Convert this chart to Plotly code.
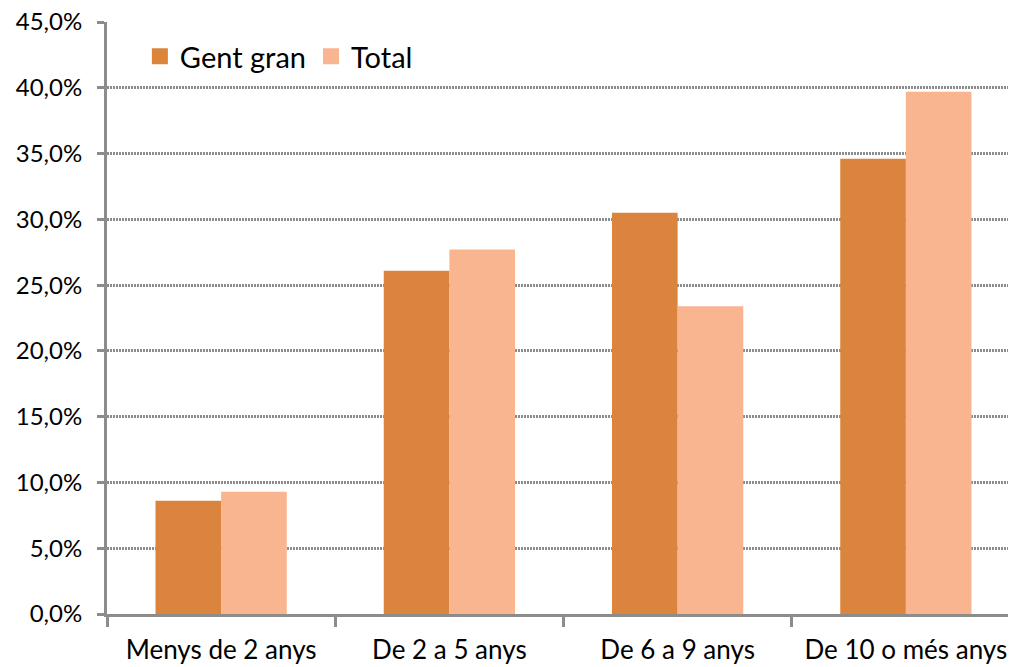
import plotly.graph_objects as go

categories = ["Menys de 2 anys", "De 2 a 5 anys", "De 6 a 9 anys", "De 10 o més anys"]
gent_gran = [8.6, 26.1, 30.5, 34.6]
total = [9.3, 27.7, 23.4, 39.7]

colors = {"Gent gran": "#DB843D", "Total": "#F9B590"}

fig = go.Figure()
fig.add_trace(go.Bar(name="Gent gran", x=categories, y=gent_gran, marker_color=colors["Gent gran"],
                     marker_line_width=0, showlegend=False))
fig.add_trace(go.Bar(name="Total", x=categories, y=total, marker_color=colors["Total"],
                     marker_line_width=0, showlegend=False))
# legend entries with larger square symbols
for name, col in colors.items():
    fig.add_trace(go.Scatter(name=name, x=[None], y=[None], mode="markers",
                             marker=dict(symbol="square", size=22, color=col)))

axis_grey = "#8c8c8c"
# page body has an 8px margin, so the figure is offset by 8px
fig.update_layout(
    width=1016, height=667,
    barmode="group", bargap=0.425, bargroupgap=0,
    paper_bgcolor="white", plot_bgcolor="white",
    margin=dict(l=99, r=4, t=14, b=61),
    separators=",.",
    font=dict(family="Lato, sans-serif", size=24, color="black"),
    legend=dict(orientation="h", x=0.036, y=0.985, xanchor="left", yanchor="top",
                font=dict(size=29), bgcolor="rgba(0,0,0,0)", itemwidth=30),
    showlegend=True,
)
fig.update_xaxes(
    showline=True, linecolor=axis_grey, linewidth=3,
    ticks="outside", tickson="boundaries", ticklen=10, tickwidth=3, tickcolor=axis_grey,
    showgrid=False, range=[-0.5, 3.5], automargin=False,
    tickfont=dict(size=26), ticklabelstandoff=11, ticklabeloverflow="allow",
)
fig.update_yaxes(
    range=[0, 45], dtick=5, tickformat=".1f", ticksuffix="%",
    showline=True, linecolor=axis_grey, linewidth=3,
    ticks="outside", ticklen=7, tickwidth=3, tickcolor=axis_grey,
    showgrid=True, gridcolor=axis_grey, gridwidth=3, griddash="2px,1px",
    zeroline=False, automargin=False, ticklabelstandoff=10, ticklabeloverflow="allow",
)

fig.write_html("out.html")
